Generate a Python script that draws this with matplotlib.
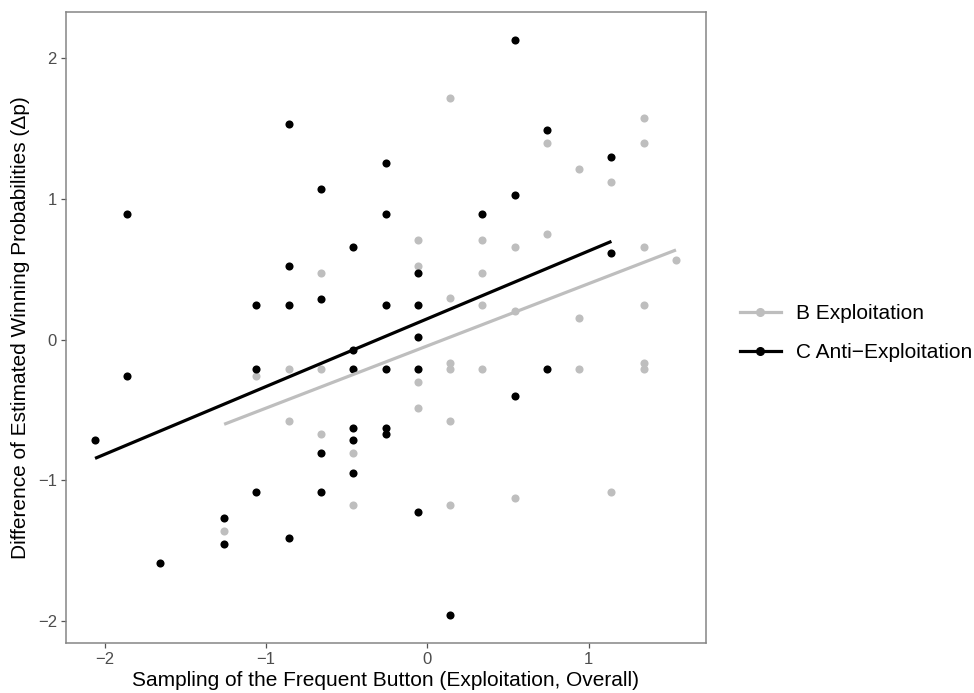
"""
    exploitation scatter, B vs C
"""

import numpy
from matplotlib import pyplot as plt
from matplotlib.lines import Line2D

plt.rcParams['font.family'] = ['Liberation Sans', 'DejaVu Sans']

# B Exploitation (grey)
b_x = [-1.26, -1.06, -0.86, -0.86, -0.66, -0.66, -0.66, -0.46, -0.46,
       -0.06, -0.06, -0.06, -0.06, 0.14, 0.14, 0.14, 0.14, 0.14, 0.14,
       0.34, 0.34, 0.34, 0.34, 0.54, 0.54, 0.54, 0.74, 0.74,
       0.94, 0.94, 0.94, 1.14, 1.14, 1.34, 1.34, 1.34, 1.34, 1.34, 1.34, 1.54]
b_y = [-1.36, -0.26, -0.21, -0.58, 0.475, -0.21, -0.67, -0.81, -1.176,
       0.707, 0.52, -0.30, -0.49, 1.716, 0.293, -0.167, -0.21, -0.58, -1.176,
       0.707, 0.475, 0.245, -0.21, 0.66, 0.20, -1.13, 1.394, 0.752,
       1.21, 0.155, -0.21, 1.12, -1.086, 1.576, 1.394, 0.66, 0.245, -0.167, -0.21, 0.567]

# C Anti-Exploitation (black)
c_x = [-2.06, -1.86, -1.86, -1.66, -1.26, -1.26, -1.06, -1.06, -1.06,
       -0.86, -0.86, -0.86, -0.86, -0.66, -0.66, -0.66, -0.66,
       -0.46, -0.46, -0.46, -0.46, -0.46, -0.46,
       -0.26, -0.26, -0.26, -0.26, -0.26, -0.26,
       -0.06, -0.06, -0.06, -0.06, -0.06, 0.14, 0.34,
       0.54, 0.54, 0.54, 0.74, 0.74, 1.14, 1.14]
c_y = [-0.716, 0.89, -0.26, -1.59, -1.27, -1.453, 0.245, -0.21, -1.086,
       1.53, 0.52, 0.245, -1.41, 1.07, 0.29, -0.81, -1.086,
       0.66, -0.075, -0.21, -0.627, -0.716, -0.947,
       1.257, 0.89, 0.245, -0.21, -0.627, -0.67,
       0.475, 0.245, 0.015, -0.21, -1.224, -1.958, 0.89,
       2.13, 1.027, -0.40, 1.487, -0.21, 1.30, 0.613]

# linear fits (intercept, slope) as drawn in the figure
b_fit = (-0.045, 0.4425)
c_fit = (0.148, 0.482)

labels = ["B Exploitation", "C Anti\u2212Exploitation"]
colors = ["#BEBEBE", "#000000"]

def main() :
    fig = plt.figure(figsize=(9.74, 6.93), dpi=100)
    ax = fig.add_axes([66/974, 1 - 642.7/693, (706 - 66)/974, (642.7 - 11.7)/693])

    groups = [(b_x, b_y, b_fit), (c_x, c_y, c_fit)]
    for (xx, yy, fit), col in zip(groups, colors) :
        ax.scatter(xx, yy, s=34, color=col, linewidths=0, zorder=2)
    for (xx, yy, fit), col in zip(groups, colors) :
        lx = numpy.array([min(xx), max(xx)])
        ax.plot(lx, fit[0] + fit[1] * lx, color=col, lw=2.3, solid_capstyle='butt', zorder=3)

    ax.set_xlim(-2.24, 1.726)
    ax.set_ylim(-2.155, 2.33)
    ax.set_xticks([-2, -1, 0, 1])
    ax.set_yticks([-2, -1, 0, 1, 2])
    for sp in ax.spines.values() :
        sp.set_color('#858585')
        sp.set_linewidth(1.1)
    ax.tick_params(direction='out', length=3.5, width=0.9, color='#555555',
                   labelcolor='#4D4D4D', labelsize=12, pad=3)

    ax.set_xlabel("Sampling of the Frequent Button (Exploitation, Overall)", fontsize=15, labelpad=3)
    ax.set_ylabel("Difference of Estimated Winning Probabilities (\u0394p)", fontsize=15, labelpad=6)

    handles = [Line2D([0], [0], color=c, lw=2.3, marker='o', markersize=5.5) for c in colors]
    fig.legend(handles, labels, loc='center left', bbox_to_anchor=(740/974, 1 - 333/693),
               frameon=False, fontsize=15, handlelength=1.95, handletextpad=0.75,
               labelspacing=0.95, borderpad=0, borderaxespad=0)

    fig.savefig("out.png", dpi=100)


if __name__ == '__main__' :
    main()
